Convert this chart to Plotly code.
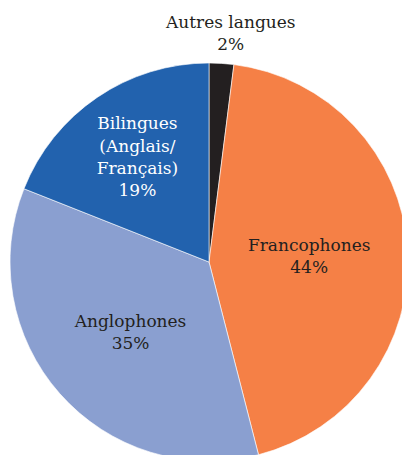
import plotly.graph_objects as go

labels = ['Autres langues', 'Francophones', 'Anglophones', 'Bilingues (Anglais/Français)']
values = [2, 44, 35, 19]
text_labels = ['', 'Francophones<br>44%', 'Anglophones<br>35%',
               'Bilingues<br>(Anglais/<br>Français)<br>19%']
colors = ['#231f20', '#f58046', '#8a9fd0', '#2262ae']
text_colors = ['#231f20', '#231f20', '#231f20', 'white']

serif = 'DejaVu Serif'  # only serif face available here
W, H = 410, 470

fig = go.Figure(go.Pie(
    labels=labels,
    values=values,
    text=text_labels,
    textinfo='text',
    textposition=['none', 'inside', 'inside', 'inside'],
    insidetextorientation='horizontal',
    textfont=dict(family=serif, size=17, color=text_colors),
    marker=dict(colors=colors, line=dict(color='white', width=0.6)),
    sort=False,
    direction='clockwise',
    rotation=0,
    domain=dict(x=[10 / W, 408 / W], y=[(H - 461) / H, (H - 63) / H]),
))

# small slice label sits above the pie, as in the original
fig.add_annotation(
    text='Autres langues<br>2%', x=230 / W, y=(H - 33) / H, xref='paper', yref='paper',
    xanchor='center', yanchor='middle',
    showarrow=False, font=dict(family=serif, size=17, color='#231f20'),
)

fig.update_layout(
    width=W, height=H,
    margin=dict(l=0, r=0, t=0, b=0),
    showlegend=False,
    font=dict(family=serif),
    paper_bgcolor='white',
    plot_bgcolor='white',
)

fig.write_html("out.html", config={'displayModeBar': False},
               post_script="document.body.style.margin='0';document.body.style.overflow='hidden';")
